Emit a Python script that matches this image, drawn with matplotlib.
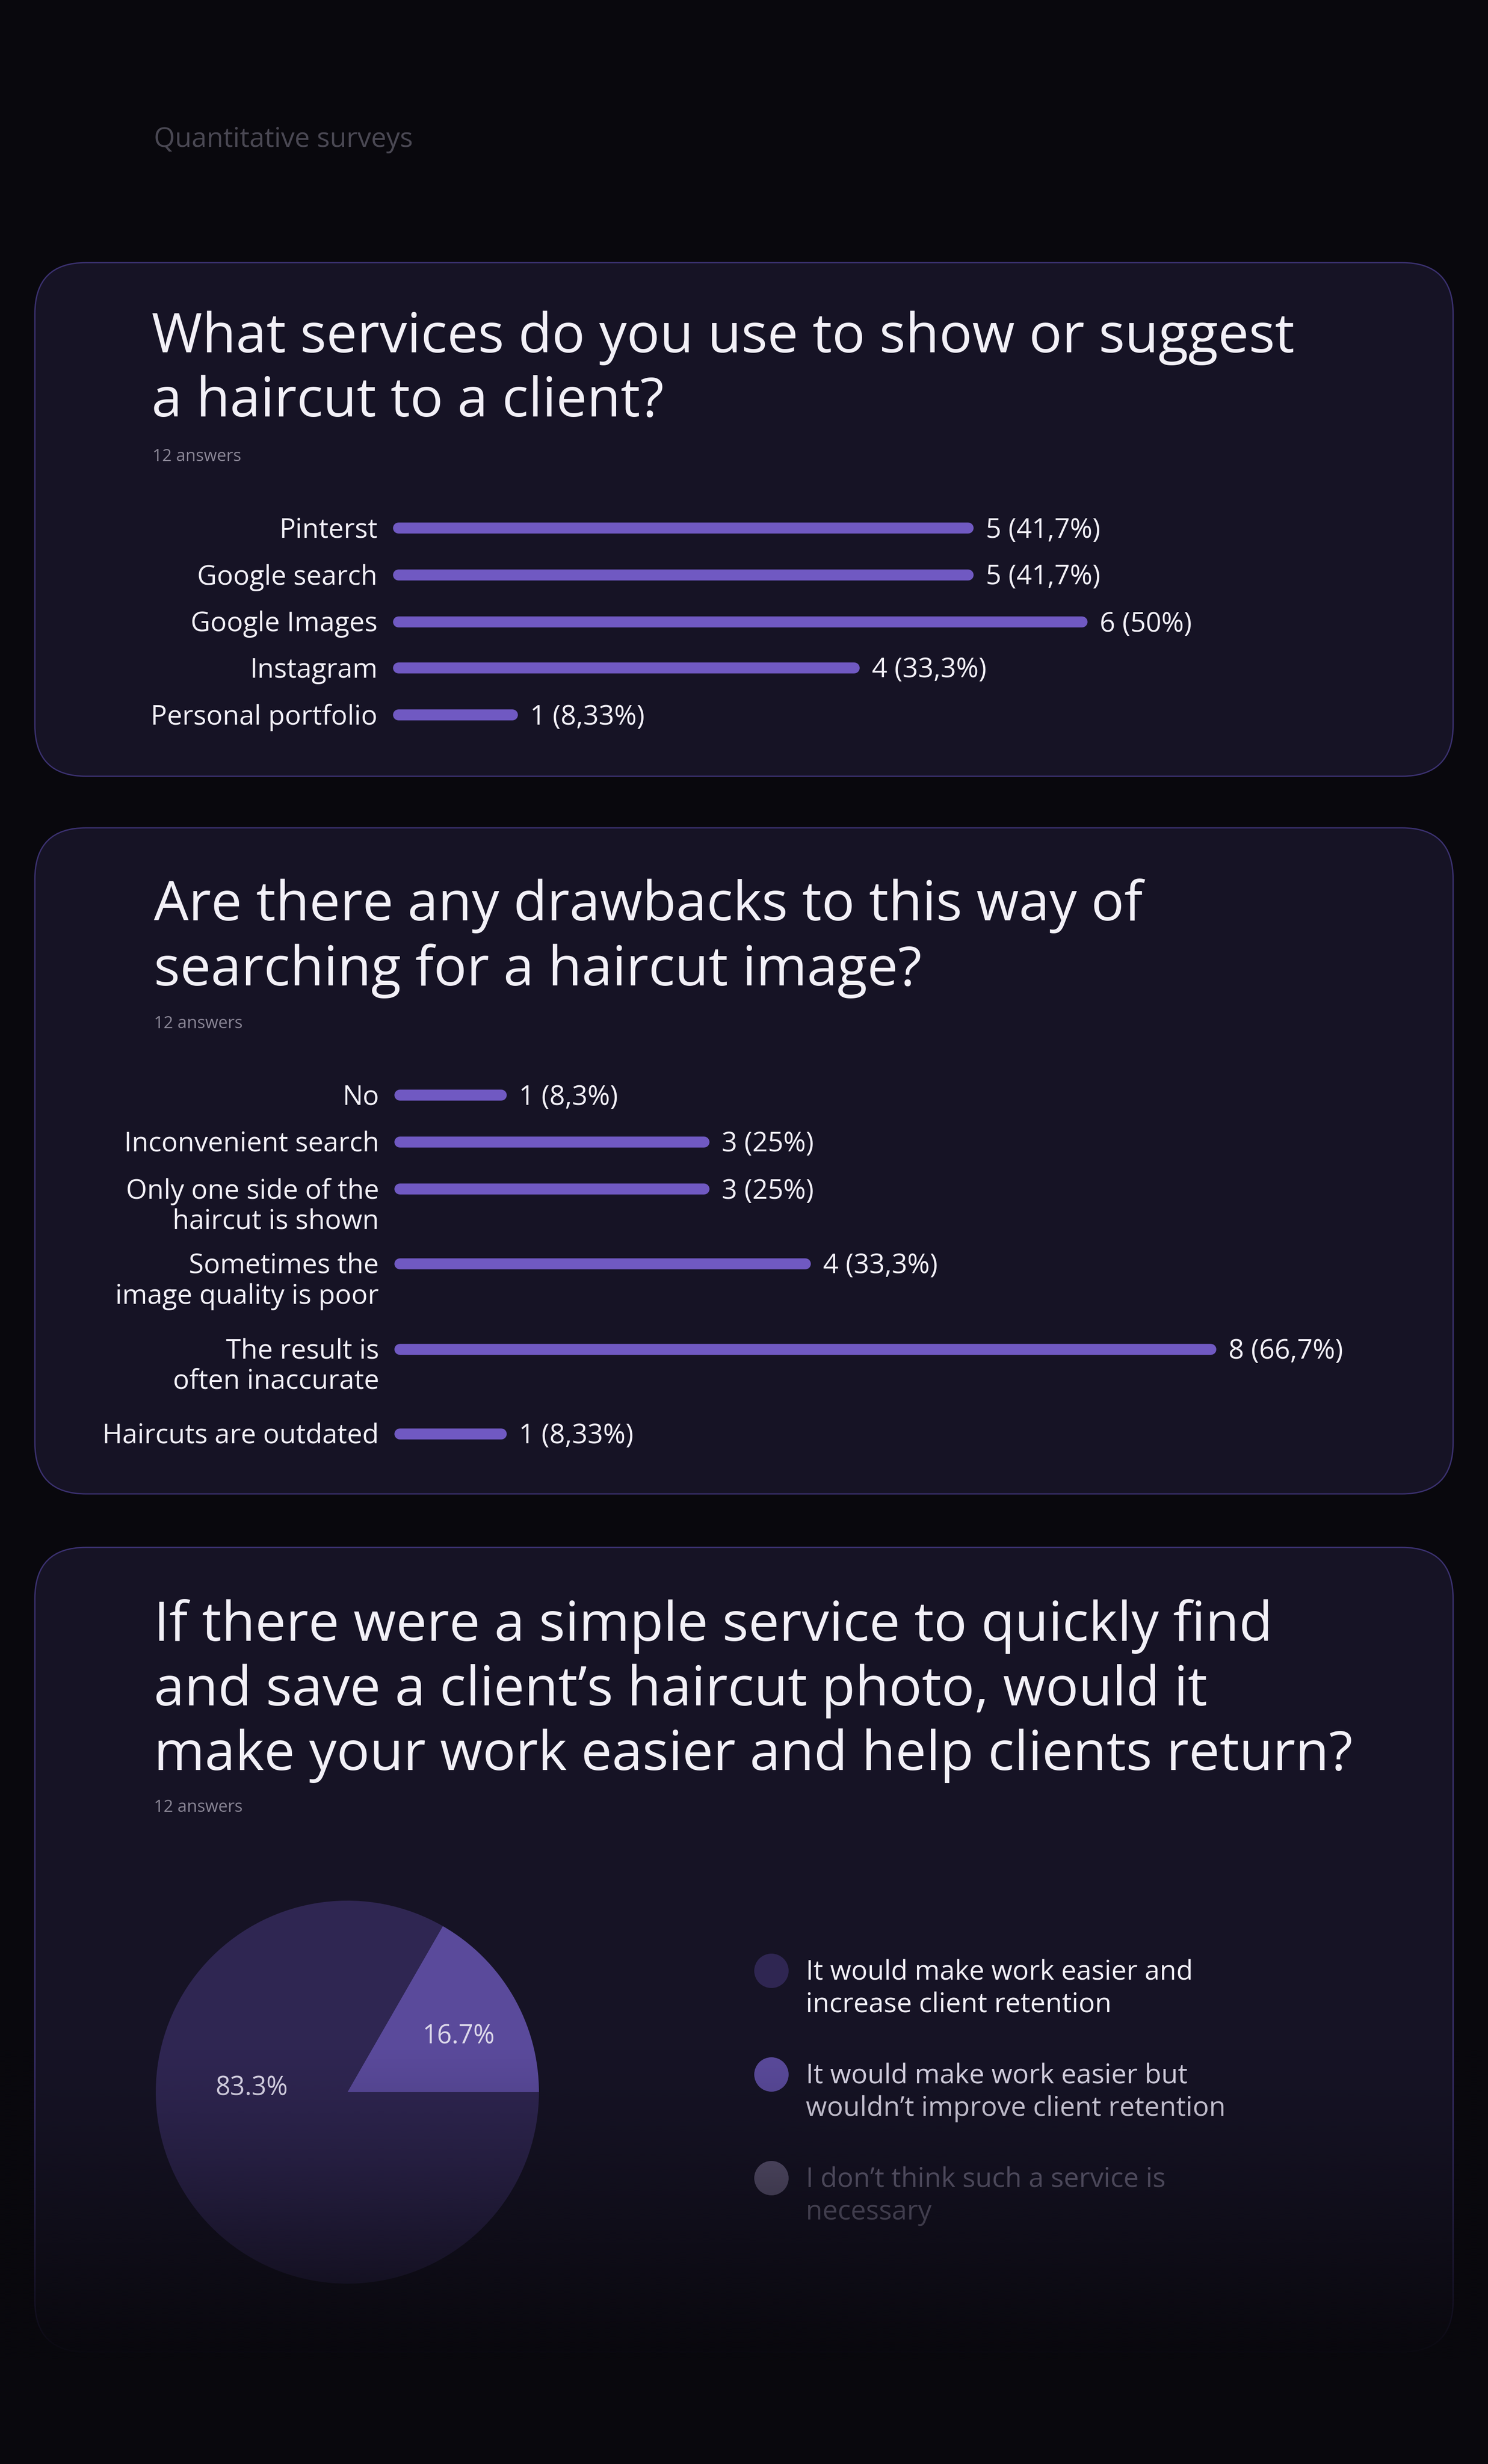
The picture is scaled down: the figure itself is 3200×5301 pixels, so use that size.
import numpy as np
import matplotlib.pyplot as plt
from matplotlib.patches import FancyBboxPatch, Circle

plt.rcParams['font.family'] = ['Open Sans', 'DejaVu Sans']

BG = '#09080d'
CARD = '#161325'
EDGE = '#3b3170'
BAR = '#7059c2'
WHITE = '#f2f0f7'
GREY = '#8a8696'

q1_title = "What services do you use to show or suggest\na haircut to a client?"
q1_labels = ["Pinterst", "Google search", "Google Images", "Instagram", "Personal portfolio"]
q1_counts = [5, 5, 6, 4, 1]
q1_texts = ["5 (41,7%)", "5 (41,7%)", "6 (50%)", "4 (33,3%)", "1 (8,33%)"]

q2_title = "Are there any drawbacks to this way of\nsearching for a haircut image?"
q2_labels = ["No", "Inconvenient search", "Only one side of the\nhaircut is shown",
             "Sometimes the\nimage quality is poor", "The result is\noften inaccurate",
             "Haircuts are outdated"]
q2_counts = [1, 3, 3, 4, 8, 1]
q2_texts = ["1 (8,3%)", "3 (25%)", "3 (25%)", "4 (33,3%)", "8 (66,7%)", "1 (8,33%)"]

q3_title = ("If there were a simple service to quickly find\n"
            "and save a client\u2019s haircut photo, would it\n"
            "make your work easier and help clients return?")
q3_legend = ["It would make work easier and\nincrease client retention",
             "It would make work easier but\nwouldn\u2019t improve client retention",
             "I don\u2019t think such a service is\nnecessary"]
q3_shares = [16.7, 83.3]
q3_pct = ["16.7%", "83.3%"]

W, H = 3200, 5301
fig = plt.figure(figsize=(W / 100, H / 100), dpi=100, facecolor=BG)
ax = fig.add_axes([0, 0, 1, 1])
ax.set_facecolor(BG)


def card(y0, y1):
    ax.add_patch(FancyBboxPatch((75, y0), 3050, y1 - y0,
                                boxstyle="round,pad=0,rounding_size=110",
                                fc=CARD, ec=EDGE, lw=2, zorder=1))


ax.text(331, 301, "Quantitative surveys", color='#4a4853', fontsize=42,
        va='center', ha='left', zorder=3)


def title(x, y, s):
    ax.text(x, y, s, color=WHITE, fontsize=85, fontweight='medium',
            va='top', ha='left', linespacing=1.24, zorder=3)


def answers(x, y):
    ax.text(x, y, "12 answers", color=GREY, fontsize=26, va='center', ha='left', zorder=3)


def bars(labels, counts, texts, ys, x0, unit):
    for lab, c, t, y in zip(labels, counts, texts, ys):
        ax.text(x0 - 45, y + 12, lab, color=WHITE, fontsize=42, ha='right', va='top',
                linespacing=1.15, zorder=3)
        x1 = x0 + c * unit
        ax.plot([x0, x1], [y + 36, y + 36], color=BAR, lw=17,
                solid_capstyle='round', zorder=3)
        ax.text(x1 + 38, y + 12, t, color=WHITE, fontsize=42, ha='left', va='top', zorder=3)


# card 1
card(565, 1670)
title(326, 668, q1_title)
answers(328, 983)
bars(q1_labels, q1_counts, q1_texts, [1100, 1201, 1302, 1401, 1502], 857, 245)

# card 2
card(1781, 3214)
title(331, 1890, q2_title)
answers(331, 2203)
bars(q2_labels, q2_counts, q2_texts, [2320, 2421, 2522, 2683, 2867, 3049], 860, 218)

# card 3
card(3329, 5060)
title(331, 3440, q3_title)
answers(331, 3889)

cx, cy, r = 747, 4501, 412
wedges, _ = ax.pie(q3_shares, colors=['#5a4a9b', '#2f2652'], startangle=0,
                   counterclock=False, center=(cx, cy), radius=r, frame=True,
                   wedgeprops=dict(lw=0, zorder=2))
# y axis is inverted: counterclock=False draws the small slice upward
ax.text(cx + 0.58 * r, cy - 0.29 * r, q3_pct[0], color='#dcd8ea', fontsize=40,
        ha='center', va='center', zorder=3)
ax.text(cx - 0.5 * r, cy - 0.02 * r, q3_pct[1], color='#dcd8ea', fontsize=40,
        ha='center', va='center', zorder=3)

leg_colors = ['#2f2652', '#5a4a9b', '#5e5675']
leg_text = [WHITE, '#d8d4e4', '#6d6880']
for i, (lab, c, tc) in enumerate(zip(q3_legend, leg_colors, leg_text)):
    y = 4240 + i * 223
    ax.add_patch(Circle((1659, y), 37, fc=c, ec='none', zorder=3))
    ax.text(1733, y - 25, lab, color=tc, fontsize=42, ha='left', va='top',
            linespacing=1.25, zorder=3)

# bottom fade of the last card
grad = np.linspace(0, 1, 256) ** 1.3
rgba = np.zeros((256, 1, 4))
rgba[..., :3] = np.array([9, 8, 13]) / 255
rgba[..., 3] = grad[:, None]
ax.imshow(rgba, extent=(0, W, 5080, 4400), aspect='auto', zorder=5,
          interpolation='bilinear')
ax.add_patch(plt.Rectangle((0, 5080), W, H - 5080, fc=BG, ec='none', zorder=5))

ax.set_xlim(0, W)
ax.set_ylim(H, 0)
ax.axis('off')
fig.savefig('out.png', dpi=100, facecolor=BG)
